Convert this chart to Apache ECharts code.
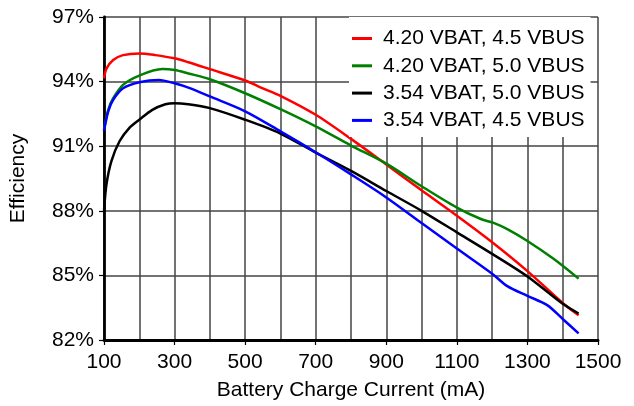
<!DOCTYPE html>
<html>
<head>
<meta charset="utf-8">
<script src="https://cdn.jsdelivr.net/npm/echarts@6/dist/echarts.min.js"></script>
<style>
html,body{margin:0;padding:0;background:#fff;}
#chart{width:634px;height:406px;}
</style>
</head>
<body>
<div id="chart"></div>
<script>
var seriesNames = ['4.20 VBAT, 4.5 VBUS', '4.20 VBAT, 5.0 VBUS', '3.54 VBAT, 5.0 VBUS', '3.54 VBAT, 4.5 VBUS'];
var seriesColors = ['#ff0000', '#008000', '#000000', '#0000ff'];

var redX = [100,107,126,154,200,246,300,339,400,500,550,600,700,800,900,1000,1100,1200,1300,1400,1445];
var redY = [94.15,94.6,95.0,95.23,95.31,95.23,95.08,94.9,94.58,94.05,93.69,93.34,92.46,91.34,90.15,88.95,87.77,86.54,85.2,83.72,83.15];

var greenX = [100,112,126,154,200,265,300,339,400,500,600,700,800,900,1000,1100,1168,1206,1243,1300,1374,1445];
var greenY = [91.77,92.69,93.23,93.85,94.28,94.58,94.54,94.38,94.11,93.46,92.72,91.92,91.03,90.19,89.14,88.15,87.62,87.43,87.15,86.6,85.77,84.85];

var blackX = [100,107,121,144,172,200,237,274,300,339,400,500,600,700,800,900,1000,1100,1200,1300,1400,1445];
var blackY = [88.0,89.23,90.31,91.23,91.85,92.23,92.69,92.95,93.0,92.95,92.77,92.23,91.59,90.7,89.85,88.92,88.0,87.0,86.0,84.95,83.68,83.23];

var blueX = [100,112,126,154,200,256,300,339,400,500,600,700,800,900,1000,1100,1200,1243,1300,1356,1403,1445];
var blueY = [91.72,92.62,93.15,93.69,93.97,94.08,93.92,93.72,93.31,92.62,91.69,90.72,89.69,88.62,87.43,86.25,85.08,84.5,84.05,83.62,82.93,82.31];

var xTicks = {min: 100, max: 1500, interval: 200};
var yTicks = {min: 82, max: 97, interval: 3};

function pairs(xs, ys) { return xs.map(function (x, i) { return [x, ys[i]]; }); }
var allData = [pairs(redX, redY), pairs(greenX, greenY), pairs(blackX, blackY), pairs(blueX, blueY)];

var FONT = 'Liberation Sans';
var FS = 21;
var chart = echarts.init(document.getElementById('chart'), null, {renderer: 'canvas'});
chart.setOption({
  animation: false,
  backgroundColor: '#ffffff',
  textStyle: {fontFamily: FONT},
  grid: {left: 100, right: 36, top: 17, bottom: 65, containLabel: false},
  legend: {
    data: seriesNames.map(function (n) { return {name: n, icon: 'rect'}; }),
    orient: 'vertical',
    left: 349,
    top: 17,
    padding: [11, 6, 6, 3],
    itemWidth: 20,
    itemHeight: 3,
    itemGap: 6.3,
    backgroundColor: '#ffffff',
    textStyle: {fontFamily: FONT, fontSize: FS, color: '#000', lineHeight: 20, padding: [0, 0, 0, 6]}
  },
  xAxis: {
    type: 'value',
    min: xTicks.min, max: xTicks.max, interval: xTicks.interval,
    name: 'Battery Charge Current (mA)',
    nameLocation: 'middle',
    nameGap: 40,
    nameTextStyle: {fontFamily: FONT, fontSize: FS, color: '#000'},
    axisLine: {show: true, onZero: false, lineStyle: {color: '#000', width: 2.8}},
    axisTick: {show: true, length: 5, lineStyle: {color: '#000', width: 1.2}},
    axisLabel: {fontFamily: FONT, fontSize: FS, color: '#000', margin: 12, showMinLabel: true, showMaxLabel: true,
      formatter: function (v) { return String(v); }},
    splitLine: {show: true, lineStyle: {color: '#444', width: 1.5}},
    minorTick: {show: false, splitNumber: 2},
    minorSplitLine: {show: true, lineStyle: {color: '#444', width: 1.5}}
  },
  yAxis: {
    type: 'value',
    min: yTicks.min, max: yTicks.max, interval: yTicks.interval,
    name: 'Efficiency',
    nameLocation: 'middle',
    nameGap: 75,
    nameRotate: 90,
    nameTextStyle: {fontFamily: FONT, fontSize: FS, color: '#000'},
    axisLine: {show: true, onZero: false, lineStyle: {color: '#000', width: 2.8}},
    axisTick: {show: true, length: 5, lineStyle: {color: '#000', width: 1.2}},
    axisLabel: {fontFamily: FONT, fontSize: FS, color: '#000', margin: 10, formatter: function (v) { return v + '%'; }},
    splitLine: {show: true, lineStyle: {color: '#444', width: 1.5}}
  },
  series: seriesNames.map(function (n, i) {
    return {
      name: n,
      type: 'line',
      data: allData[i],
      symbol: 'none',
      smooth: 0.3,
      color: seriesColors[i],
      lineStyle: {color: seriesColors[i], width: 2.5},
      z: 3
    };
  })
});
</script>
</body>
</html>
